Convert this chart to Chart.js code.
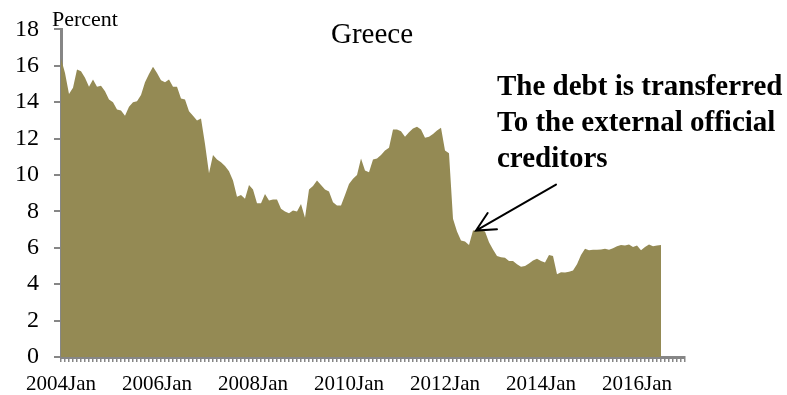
<!DOCTYPE html>
<html>
<head>
<meta charset="utf-8">
<title>Greece</title>
<script src="https://cdn.jsdelivr.net/npm/chart.js@4.4.1/dist/chart.umd.min.js"></script>
<style>
  html, body { margin: 0; padding: 0; background: #ffffff; }
  #wrap { width: 787px; height: 395px; }
</style>
</head>
<body>
<div id="wrap"><canvas id="chart" width="787" height="395"></canvas></div>
<script>
// Monthly axis: 2004Jan through 2017Jan
const startYear = 2004;
const endYear = 2017;
const monthNames = ['Jan','Feb','Mar','Apr','May','Jun','Jul','Aug','Sep','Oct','Nov','Dec'];
const months = [];
for (let y = startYear; y <= endYear; y++) {
  for (let m = 0; m < 12; m++) {
    if (y === endYear && m > 0) break;
    months.push(y + monthNames[m]);
  }
}

// Share of Greek debt (percent), monthly from 2004Jan to 2016Jul
const greeceShare = [
  16.4, 15.6, 14.45, 14.8, 15.8, 15.7, 15.35, 14.85, 15.25, 14.85, 14.9, 14.6,
  14.15, 14.0, 13.6, 13.55, 13.25, 13.75, 14.0, 14.05, 14.4, 15.1, 15.55, 15.95,
  15.6, 15.2, 15.1, 15.25, 14.85, 14.85, 14.2, 14.15, 13.5, 13.25, 13.0, 13.1,
  11.7, 10.1, 11.1, 10.85, 10.7, 10.5, 10.2, 9.7, 8.8, 8.9, 8.7, 9.45,
  9.2, 8.45, 8.45, 8.95, 8.6, 8.65, 8.65, 8.15, 8.0, 7.9, 8.05, 8.0,
  8.4, 7.65, 9.2, 9.4, 9.7, 9.45, 9.2, 9.1, 8.5, 8.33, 8.33, 8.9,
  9.5, 9.8, 10.0, 10.9, 10.25, 10.15, 10.85, 10.9, 11.1, 11.35, 11.5, 12.5,
  12.5, 12.4, 12.1, 12.35, 12.55, 12.65, 12.5, 12.05, 12.1, 12.25, 12.45, 12.6,
  11.35, 11.2, 7.6, 6.9, 6.4, 6.35, 6.15, 6.95, 6.95, 6.95, 6.9, 6.3,
  5.9, 5.55, 5.48, 5.45, 5.27, 5.27, 5.1, 4.96, 5.0, 5.14, 5.3, 5.4,
  5.27, 5.19, 5.6, 5.55, 4.55, 4.65, 4.64, 4.69, 4.75, 5.1, 5.6, 5.95,
  5.86, 5.89, 5.89, 5.9, 5.95, 5.89, 5.98, 6.09, 6.16, 6.12, 6.18, 6.04,
  6.12, 5.86, 6.04, 6.18, 6.09, 6.12, 6.16
];

const yTicks = [0, 2, 4, 6, 8, 10, 12, 14, 16, 18];
const labelEvery = 24;

const chartTitle = 'Greece';
const unitLabel = 'Percent';
const noteLines = ['The debt is transferred', 'To the external official', 'creditors'];
// point the note's arrow at the mid-2012 plateau
const noteTarget = { index: 103.75, value: 6.95 };

const serif = "'Liberation Serif', 'Times New Roman', serif";
const axisGrey = '#868686';
const fillColour = '#948A54';

const decorations = {
  id: 'decorations',
  afterDraw(chart) {
    const ctx = chart.ctx;
    const xs = chart.scales.x, ys = chart.scales.y;
    ctx.save();
    ctx.fillStyle = '#000';
    ctx.textBaseline = 'alphabetic';

    // title
    ctx.font = '29px ' + serif;
    ctx.textAlign = 'center';
    ctx.fillText(chartTitle, 372, 43);

    // unit label
    ctx.font = '22px ' + serif;
    ctx.textAlign = 'left';
    ctx.fillText(unitLabel, 52, 26);

    // annotation text
    ctx.font = 'bold 29px ' + serif;
    ctx.textAlign = 'left';
    noteLines.forEach((line, k) => ctx.fillText(line, 497, 95 + k * 36));

    // arrow from the note to the data
    const tipX = xs.getPixelForValue(noteTarget.index);
    const tipY = ys.getPixelForValue(noteTarget.value);
    const tailX = tipX + 80, tailY = tipY - 46;
    const ang = Math.atan2(tailY - tipY, tailX - tipX);
    const head = 21, spread = 0.46;
    ctx.strokeStyle = '#000';
    ctx.lineWidth = 2;
    ctx.lineCap = 'round';
    ctx.beginPath();
    ctx.moveTo(tailX, tailY);
    ctx.lineTo(tipX, tipY);
    ctx.moveTo(tipX + head * Math.cos(ang - spread), tipY + head * Math.sin(ang - spread));
    ctx.lineTo(tipX, tipY);
    ctx.lineTo(tipX + head * Math.cos(ang + spread), tipY + head * Math.sin(ang + spread));
    ctx.stroke();
    ctx.restore();
  }
};

new Chart(document.getElementById('chart'), {
  type: 'line',
  data: {
    labels: months,
    datasets: [{
      data: greeceShare,
      fill: 'origin',
      backgroundColor: fillColour,
      borderWidth: 0,
      borderColor: fillColour,
      pointRadius: 0,
      tension: 0
    }]
  },
  options: {
    responsive: false,
    animation: false,
    devicePixelRatio: 1,
    layout: { padding: { left: 0, right: 102, top: 23, bottom: 0 } },
    plugins: {
      legend: { display: false },
      tooltip: { enabled: false },
      title: { display: false }
    },
    scales: {
      x: {
        type: 'category',
        offset: false,
        grid: { drawOnChartArea: false, drawTicks: true, tickLength: 5, color: axisGrey, lineWidth: 1.5 },
        border: { color: axisGrey, width: 3 },
        ticks: {
          autoSkip: false,
          maxRotation: 0,
          minRotation: 0,
          padding: 10,
          color: '#000',
          font: { family: serif, size: 21 },
          callback: (v, i) => (i % labelEvery === 0 ? months[i] : '')
        },
        afterFit: s => { s.height = 38; }
      },
      y: {
        min: yTicks[0],
        max: yTicks[yTicks.length - 1],
        afterBuildTicks: s => { s.ticks = yTicks.map(v => ({ value: v })); },
        grid: { drawOnChartArea: false, drawTicks: true, tickLength: 7, color: axisGrey, lineWidth: 2 },
        border: { color: axisGrey, width: 3 },
        ticks: {
          padding: 15,
          color: '#000',
          font: { family: serif, size: 24 }
        },
        afterFit: s => { s.width = 61; }
      }
    }
  },
  plugins: [decorations]
});
</script>
</body>
</html>
